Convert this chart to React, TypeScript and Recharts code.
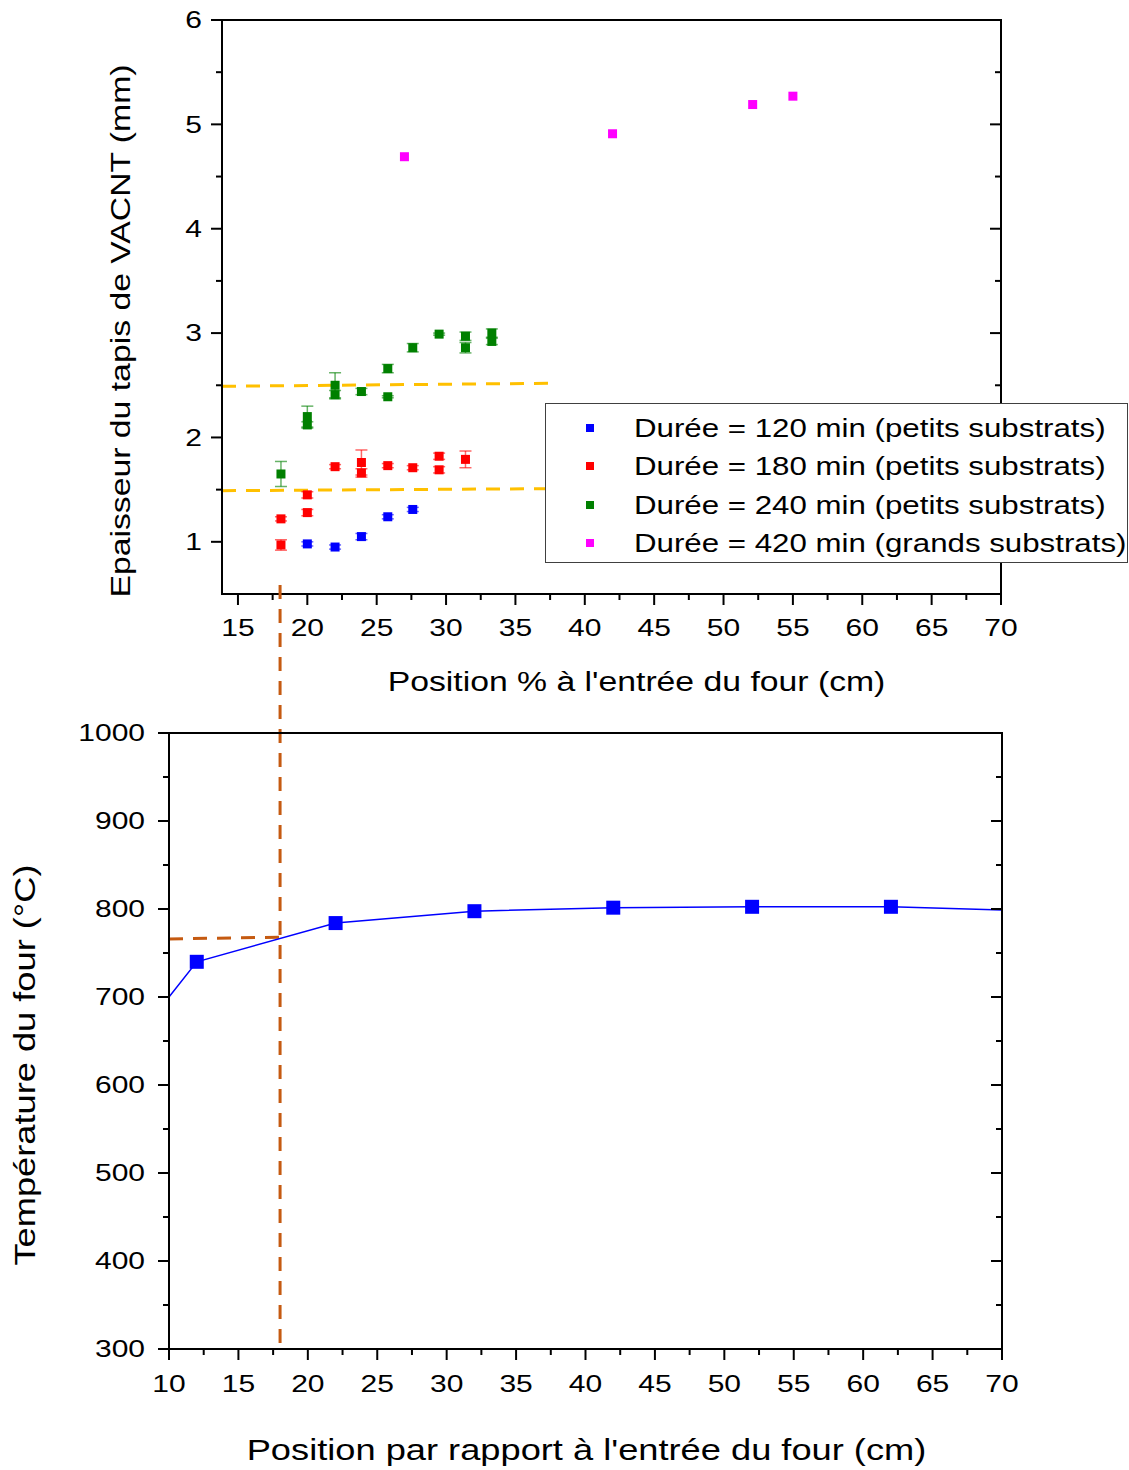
import React from "react"
import {
  ScatterChart,
  ComposedChart,
  Scatter,
  Line,
  XAxis,
  YAxis,
  ErrorBar,
  ReferenceLine,
  Legend,
  Label,
} from "recharts"

const FONT = "'Liberation Sans', Arial, sans-serif"
// the original figure's text is drawn horizontally stretched
const STRETCH = 1.25
const AXIS_LINE = { stroke: "#000", strokeWidth: 2, strokeLinecap: "square" as const }

// --- top chart: VACNT carpet thickness (mm) vs position (cm)
const pos120 = [20, 22, 23.9, 25.8, 27.6]
const thick120 = [0.98, 0.95, 1.05, 1.24, 1.31]
const err120 = [0.02, 0.02, 0.03, 0.02, 0.02]

const pos180 = [18.1, 18.1, 20, 20, 22, 23.9, 23.9, 25.8, 27.6, 29.5, 29.5, 31.4]
const thick180 = [1.22, 0.97, 1.45, 1.28, 1.72, 1.76, 1.66, 1.73, 1.71, 1.82, 1.69, 1.79]
const err180 = [0.02, 0.05, 0.03, 0.03, 0.02, 0.12, 0.04, 0.02, 0.02, 0.03, 0.03, 0.08]

const pos240 = [18.1, 20, 20, 22, 22, 23.9, 25.8, 25.8, 27.6, 29.5, 31.4, 31.4, 33.3, 33.3]
const thick240 = [1.65, 2.2, 2.12, 2.5, 2.41, 2.44, 2.66, 2.39, 2.86, 2.99, 2.97, 2.86, 3.0, 2.92]
const err240 = [0.12, 0.1, 0.03, 0.12, 0.04, 0.03, 0.04, 0.01, 0.04, 0.01, 0.04, 0.05, 0.04, 0.03]

const pos420 = [27, 42, 52.1, 55]
const thick420 = [4.69, 4.91, 5.19, 5.27]

const legendLabels = [
  "Durée = 120 min (petits substrats)",
  "Durée = 180 min (petits substrats)",
  "Durée = 240 min (petits substrats)",
  "Durée = 420 min (grands substrats)",
]
const seriesColors = ["#0000FF", "#FF0000", "#008000", "#FF00FF"]

// dashed guide levels (mm), start/end
const guideLow = [1.49, 1.51]
const guideHigh = [2.49, 2.52]
const guideX = [13.85, 38]

const topXMajor = [15, 20, 25, 30, 35, 40, 45, 50, 55, 60, 65, 70]
const topXMinor = [17.5, 22.5, 27.5, 32.5, 37.5, 42.5, 47.5, 52.5, 57.5, 62.5, 67.5]
const topYMajor = [1, 2, 3, 4, 5, 6]
const topYMinor = [1.5, 2.5, 3.5, 4.5, 5.5]

// --- bottom chart: furnace temperature profile
const furnacePos = [12, 22, 32, 42, 52, 62]
const furnaceTemp = [740, 784, 797.5, 801.5, 802.5, 802.5]
// fitted curve as drawn, including its ends on the frame
const curvePos = [10, 12, 22, 32, 42, 52, 62, 70]
const curveTemp = [700, 740, 784, 797.5, 801.5, 802.5, 802.5, 799]

// brown guide: position 18 cm -> ~767 °C
const linkPos = 18
const linkTemp = [766, 768]

const botXMajor = [10, 15, 20, 25, 30, 35, 40, 45, 50, 55, 60, 65, 70]
const botXMinor = [12.5, 17.5, 22.5, 27.5, 32.5, 37.5, 42.5, 47.5, 52.5, 57.5, 62.5, 67.5]
const botYMajor = [300, 400, 500, 600, 700, 800, 900, 1000]
const botYMinor = [350, 450, 550, 650, 750, 850, 950]

const zip = (xs: number[], ys: number[], es?: number[]) =>
  xs.map((x, i) => ({ x, y: ys[i], err: es ? es[i] : undefined }))

const topSeries = [
  zip(pos120, thick120, err120),
  zip(pos180, thick180, err180),
  zip(pos240, thick240, err240),
  zip(pos420, thick420),
]

const curveData = curvePos.map((x, i) => ({ x, t: curveTemp[i] }))
const markerData = furnacePos.map((x, i) => ({ x, t: furnaceTemp[i] }))

const BROWN = "#C55A11"
const YELLOW = "#FFC000"

function StretchText({ x, y, anchor = "middle", size, rotate = 0, children }: any) {
  return (
    <text
      transform={`translate(${x} ${y}) rotate(${rotate}) scale(${STRETCH} 1)`}
      textAnchor={anchor}
      dominantBaseline="central"
      fontFamily={FONT}
      fontSize={size}
      fill="#000"
    >
      {children}
    </text>
  )
}

// draws tick marks (major/minor) and labels; top/bottom ticks point down, left/right point left
function axisTick(side: string, majors: number[], labelGap: number) {
  return (props: any) => {
    const { x, y, payload } = props
    const v = payload.value
    const major = majors.includes(v)
    const len = major ? 11 : 6
    const vertical = side === "top" || side === "bottom"
    return (
      <g>
        <line
          x1={x}
          y1={y}
          x2={vertical ? x : x - len}
          y2={vertical ? y + len : y}
          stroke="#000"
          strokeWidth={2}
        />
        {major && labelGap > 0 && side === "bottom" && (
          <StretchText x={x} y={y + labelGap} size={24}>{v}</StretchText>
        )}
        {major && labelGap > 0 && side === "left" && (
          <StretchText x={x - labelGap} y={y} anchor="end" size={24}>{v}</StretchText>
        )}
      </g>
    )
  }
}

const square = (color: string, size: number) => (p: any) => (
  <rect x={p.cx - size / 2} y={p.cy - size / 2} width={size} height={size} fill={color} />
)

const LINK_RISE = 148

function LinkLine(p: any) {
  const top = Math.min(p.y1, p.y2) - LINK_RISE
  const bottom = Math.max(p.y1, p.y2)
  return (
    <line x1={p.x1} y1={top} x2={p.x2} y2={bottom} stroke={BROWN} strokeWidth={3} strokeDasharray="14 10" />
  )
}

function LegendBox() {
  return (
    <div
      style={{
        boxSizing: "border-box",
        width: 583,
        height: 160,
        border: "1.5px solid #404040",
        background: "#fff",
        paddingTop: 5,
        fontFamily: FONT,
        fontSize: 25,
      }}
    >
      {legendLabels.map((lab, i) => (
        <div key={lab} style={{ position: "relative", height: 38.3 }}>
          <span
            style={{
              position: "absolute",
              left: 40,
              top: 15,
              width: 8,
              height: 8,
              background: seriesColors[i],
            }}
          />
          <span
            style={{
              position: "absolute",
              left: 88,
              top: 0,
              lineHeight: "38px",
              whiteSpace: "nowrap",
              transform: `scaleX(${STRETCH})`,
              transformOrigin: "left center",
            }}
          >
            {lab}
          </span>
        </div>
      ))}
    </div>
  )
}

export default function App() {
  return (
    <div style={{ position: "relative", width: 1129, height: 1470, background: "#fff" }}>
      <style>{`body{margin:0} .recharts-surface{overflow:visible}`}</style>
      <div style={{ position: "absolute", left: 0, top: 0 }}>
        <ScatterChart width={1129} height={710} margin={{ top: 19, right: 127, bottom: 0, left: 0 }}>
          <XAxis
            type="number"
            dataKey="x"
            domain={[13.85, 70]}
            allowDataOverflow
            ticks={[...topXMajor, ...topXMinor]}
            interval={0}
            tickSize={0}
            tickMargin={0}
            tickLine={false}
            axisLine={AXIS_LINE}
            tick={axisTick("bottom", topXMajor, 34)}
            height={116}
          >
            <Label
              content={(p: any) => (
                <StretchText x={p.viewBox.x + p.viewBox.width / 2 + 25} y={p.viewBox.y + 87} size={27}>
                  Position % à l'entrée du four (cm)
                </StretchText>
              )}
            />
          </XAxis>
          <XAxis
            xAxisId="top"
            orientation="top"
            type="number"
            domain={[13.85, 70]}
            allowDataOverflow
            ticks={[...topXMajor, ...topXMinor]}
            interval={0}
            tickSize={0}
            tickMargin={0}
            tickLine={false}
            axisLine={AXIS_LINE}
            tick={axisTick("top", topXMajor, 0)}
            height={1}
          />
          <YAxis
            type="number"
            dataKey="y"
            domain={[0.5, 6]}
            allowDataOverflow
            ticks={[...topYMajor, ...topYMinor]}
            interval={0}
            tickSize={0}
            tickMargin={0}
            tickLine={false}
            axisLine={AXIS_LINE}
            tick={axisTick("left", topYMajor, 20)}
            width={222}
          >
            <Label
              content={(p: any) => (
                <StretchText x={p.viewBox.x + 120} y={p.viewBox.y + p.viewBox.height / 2 + 24} size={27} rotate={-90}>
                  Epaisseur du tapis de VACNT (mm)
                </StretchText>
              )}
            />
          </YAxis>
          <YAxis
            yAxisId="right"
            orientation="right"
            type="number"
            domain={[0.5, 6]}
            allowDataOverflow
            ticks={[...topYMajor, ...topYMinor]}
            interval={0}
            tickSize={0}
            tickMargin={0}
            tickLine={false}
            axisLine={AXIS_LINE}
            tick={axisTick("right", topYMajor, 0)}
            width={1}
          />
          <ReferenceLine
            segment={[{ x: guideX[0], y: guideHigh[0] }, { x: guideX[1], y: guideHigh[1] }]}
            stroke={YELLOW}
            strokeWidth={3}
            strokeDasharray="14 10"
          />
          <ReferenceLine
            segment={[{ x: guideX[0], y: guideLow[0] }, { x: guideX[1], y: guideLow[1] }]}
            stroke={YELLOW}
            strokeWidth={3}
            strokeDasharray="14 10"
          />
          {topSeries.map((data, i) => (
            <Scatter
              key={legendLabels[i]}
              name={legendLabels[i]}
              data={data}
              fill={seriesColors[i]}
              shape={square(seriesColors[i], 9)}
              isAnimationActive={false}
            >
              {i < 3 && (
                <ErrorBar
                  dataKey="err"
                  direction="y"
                  width={6}
                  stroke={seriesColors[i]}
                  strokeOpacity={0.6}
                  strokeWidth={1.5}
                />
              )}
            </Scatter>
          ))}
          <Legend
            layout="horizontal"
            verticalAlign="middle"
            align="center"
            wrapperStyle={{ left: 545, top: 403, width: 583, height: 160 }}
            content={() => <LegendBox />}
          />
        </ScatterChart>
      </div>

      <div style={{ position: "absolute", left: 0, top: 710 }}>
        <ComposedChart width={1129} height={760} margin={{ top: 22, right: 126, bottom: 0, left: 0 }}>
          <XAxis
            type="number"
            dataKey="x"
            domain={[10, 70]}
            allowDataOverflow
            ticks={[...botXMajor, ...botXMinor]}
            interval={0}
            tickSize={0}
            tickMargin={0}
            tickLine={false}
            axisLine={AXIS_LINE}
            tick={axisTick("bottom", botXMajor, 35)}
            height={121}
          >
            <Label
              content={(p: any) => (
                <StretchText x={p.viewBox.x + p.viewBox.width / 2 + 1} y={p.viewBox.y + 101} size={29}>
                  Position par rapport à l'entrée du four (cm)
                </StretchText>
              )}
            />
          </XAxis>
          <XAxis
            xAxisId="top"
            orientation="top"
            type="number"
            domain={[10, 70]}
            allowDataOverflow
            ticks={[...botXMajor, ...botXMinor]}
            interval={0}
            tickSize={0}
            tickMargin={0}
            tickLine={false}
            axisLine={AXIS_LINE}
            tick={axisTick("top", botXMajor, 0)}
            height={1}
          />
          <YAxis
            type="number"
            dataKey="t"
            domain={[300, 1000]}
            allowDataOverflow
            ticks={[...botYMajor, ...botYMinor]}
            interval={0}
            tickSize={0}
            tickMargin={0}
            tickLine={false}
            axisLine={AXIS_LINE}
            tick={axisTick("left", botYMajor, 24)}
            width={169}
          >
            <Label
              content={(p: any) => (
                <StretchText x={p.viewBox.x + 25} y={p.viewBox.y + p.viewBox.height / 2 + 24} size={29} rotate={-90}>
                  Température du four (°C)
                </StretchText>
              )}
            />
          </YAxis>
          <YAxis
            yAxisId="right"
            orientation="right"
            type="number"
            domain={[300, 1000]}
            allowDataOverflow
            ticks={[...botYMajor, ...botYMinor]}
            interval={0}
            tickSize={0}
            tickMargin={0}
            tickLine={false}
            axisLine={AXIS_LINE}
            tick={axisTick("right", botYMajor, 0)}
            width={1}
          />
          <ReferenceLine
            segment={[{ x: 10, y: linkTemp[0] }, { x: linkPos, y: linkTemp[1] }]}
            stroke={BROWN}
            strokeWidth={3}
            strokeDasharray="14 10"
          />
          <ReferenceLine
            segment={[{ x: linkPos, y: 300 }, { x: linkPos, y: 1000 }]}
            shape={LinkLine}
          />
          <Line
            data={curveData}
            dataKey="t"
            type="linear"
            stroke="#0000FF"
            strokeWidth={1.5}
            dot={false}
            activeDot={false}
            isAnimationActive={false}
          />
          <Scatter data={markerData} dataKey="t" shape={square("#0000FF", 14)} isAnimationActive={false} />
        </ComposedChart>
      </div>
    </div>
  )
}
